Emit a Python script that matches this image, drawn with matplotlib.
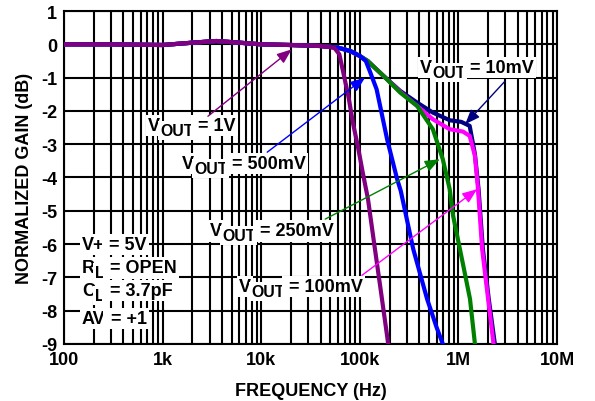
import matplotlib.pyplot as plt
from matplotlib.ticker import LogLocator, NullFormatter

plt.rcParams['font.family'] = ['Liberation Sans', 'DejaVu Sans']
plt.rcParams['font.weight'] = 'bold'

# =========================
# DATOS
# =========================
flat_f = [100, 300, 1000, 2000, 3500, 6000, 10000, 20000, 40000]
flat_g = [0, 0, -0.02, 0.05, 0.1, 0.05, 0, -0.02, -0.05]

f_1v = flat_f + [55000, 62000, 68000, 77000, 85000, 96000, 107000, 121000, 140000, 165000, 194000]
g_1v = flat_g + [-0.1, -0.3, -0.85, -1.6, -2.35, -3.1, -3.85, -4.65, -6.0, -7.5, -9.0]

f_500 = flat_f + [60000, 80000, 100000, 115000, 126000, 148000, 189000, 239000, 260000, 348000, 481000, 600000, 694000]
g_500 = flat_g + [-0.1, -0.2, -0.35, -0.5, -0.8, -1.35, -2.85, -4.05, -4.4, -6.15, -7.65, -8.5, -9.0]

f_250 = flat_f + [60000, 80000, 100000, 120000, 174000, 257000, 381000, 550000, 694000, 815000, 883000, 1120000, 1310000, 1470000]
g_250 = flat_g + [-0.1, -0.2, -0.35, -0.5, -0.95, -1.45, -1.85, -2.55, -3.45, -4.35, -5.15, -6.65, -7.65, -9.0]

f_100 = flat_f + [60000, 80000, 100000, 120000, 174000, 257000, 381000, 550000, 815000, 1110000, 1300000, 1470000, 1580000, 1740000, 2000000, 2270000]
g_100 = flat_g + [-0.1, -0.2, -0.35, -0.5, -0.95, -1.43, -1.85, -2.25, -2.55, -2.62, -2.75, -3.35, -4.35, -6.15, -7.65, -9.0]

f_10 = flat_f + [60000, 80000, 100000, 120000, 174000, 257000, 381000, 550000, 815000, 1070000, 1300000, 1470000, 1600000, 1770000, 2030000, 2340000]
g_10 = flat_g + [-0.1, -0.2, -0.35, -0.5, -0.95, -1.4, -1.75, -2.05, -2.28, -2.33, -2.45, -3.3, -4.35, -6.15, -7.65, -9.0]

x_ticks = [100, 1000, 10000, 100000, 1000000, 10000000]
x_labels = ["100", "1k", "10k", "100k", "1M", "10M"]
y_ticks = list(range(1, -10, -1))

# etiquetas: resto del texto, posicion (izq, linea base), cola y punta de flecha, color
labels = [
    (" = 1V", (711, -2.58), (2880, -2.16), (20400, -0.15), "#800080"),
    (" = 500mV", (1574, -3.72), (11500, -3.24), (113000, -1.0), "#0000ff"),
    (" = 250mV", (3027, -5.74), (44600, -5.25), (647000, -3.45), "#008000"),
    (" = 100mV", (5957, -7.41), (105000, -6.94), (1550000, -4.35), "#ff00ff"),
    (" = 10mV", (408000, -0.84), (2960000, -1.11), (1170000, -2.4), "#000080"),
]

# condiciones: texto principal, subindice, resto
cond_main = ["V+", "R", "C", "AV"]
cond_sub = ["", "L", "L", ""]
cond_rest = [" = 5V", " = OPEN", " = 3.7pF", " = +1"]
cond_y = [-6.15, -6.85, -7.54, -8.38]


# =========================
# GRAFICO
# =========================
fig = plt.figure(figsize=(5.95, 4.02), dpi=100)
ax = fig.add_axes([0.1076, 0.142, 0.8286, 0.828])


def sub_label(x, y, main, sub, rest, fs=13):
    box = dict(facecolor="white", edgecolor="none", pad=1.5)
    t1 = ax.text(x, y, main, fontsize=fs, fontweight="bold", ha="left", va="baseline",
                 zorder=3, bbox=box)
    t2 = t1
    if sub:
        t2 = ax.annotate(sub, xy=(1, 0.66), xycoords=t1, ha="left", va="top",
                         fontsize=fs * 0.88, fontweight="bold", zorder=3, bbox=box)
    ax.annotate(rest, xy=(1, 0), xycoords=(t2, t1), ha="left", va="bottom",
                fontsize=fs, fontweight="bold", zorder=3, bbox=box)


ax.set_xscale("log")
ax.set_xlim(100, 1e7)
ax.set_ylim(-9, 1)

ax.xaxis.set_major_locator(LogLocator(base=10))
ax.xaxis.set_minor_locator(LogLocator(base=10, subs=range(2, 10)))
ax.xaxis.set_minor_formatter(NullFormatter())
ax.set_xticks(x_ticks)
ax.set_xticklabels(x_labels, fontweight="bold")
ax.set_yticks(y_ticks)
ax.set_yticklabels([str(v) for v in y_ticks], fontweight="bold")
ax.grid(which="both", color="black", linewidth=1.5, zorder=0)
ax.set_axisbelow(True)
ax.tick_params(which="both", length=0, labelsize=13, pad=5)
for s in ax.spines.values():
    s.set_linewidth(1.5)

ax.plot(f_10, g_10, color="#000080", lw=3, zorder=4)
ax.plot(f_100, g_100, color="#ff00ff", lw=3, zorder=4)
ax.plot(f_250, g_250, color="#008000", lw=3, zorder=4)
ax.plot(f_500, g_500, color="#0000ff", lw=3, zorder=4)
ax.plot(f_1v, g_1v, color="#800080", lw=3, zorder=4)

for rest, pos, tail, head, col in labels:
    sub_label(pos[0], pos[1], "V", "OUT", rest)
    ax.annotate("", xy=head, xytext=tail, zorder=5,
                arrowprops=dict(arrowstyle="-|>,head_length=0.9,head_width=0.35",
                                color=col, lw=1, shrinkA=0, shrinkB=0))

for m, s, r, y in zip(cond_main, cond_sub, cond_rest, cond_y):
    sub_label(152, y, m, s, r)

ax.set_xlabel("FREQUENCY (Hz)", fontsize=13, fontweight="bold", labelpad=10)
ax.set_ylabel("NORMALIZED GAIN (dB)", fontsize=13, fontweight="bold", labelpad=6)

plt.savefig("out.png", dpi=100)
